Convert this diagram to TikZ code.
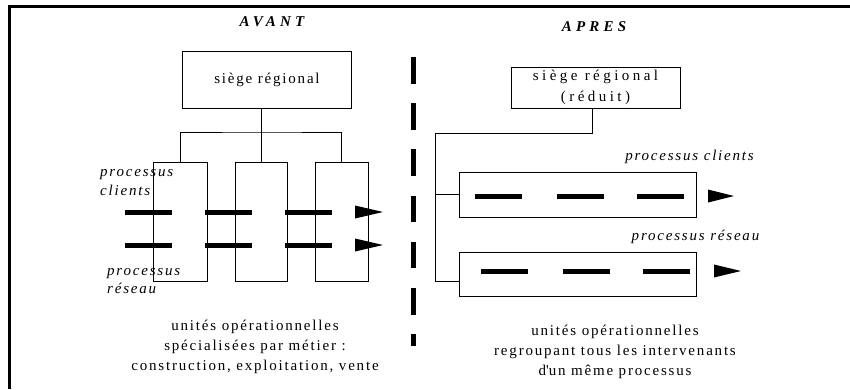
\documentclass[tikz,border=0pt]{standalone}
\usepackage{fontspec}
\setmainfont[LetterSpace=12]{Liberation Serif}
\usetikzlibrary{calc}

\begin{document}
\begin{tikzpicture}[x=1pt, y=-1pt,
    boite/.style={draw, line width=1pt, inner sep=0pt},
    lien/.style={line width=1pt},
    tiret/.style={line width=5pt},
    legende/.style={font=\fontsize{15}{20}\selectfont, align=center},
    proc/.style={font=\fontsize{15}{18.5}\selectfont\itshape, inner sep=0pt},
    titre/.style={font=\fontsize{15}{18}\selectfont\bfseries\itshape\addfontfeature{LetterSpace=28}}]

  \useasboundingbox (0,0) rectangle (850,389);

  % ====== CADRE ======
  \draw[line width=3pt] (9,389) -- (9,6) -- (850,6);

  % ====== AVANT ======
  \begin{scope}
    % Titre et siege
    \node[titre] (avant) at (272,22) {AVANT};
    \node[boite, legende, minimum width=169pt, minimum height=57pt] (siegeA) at (267,79.5) {siège régional};

    % Unites par metier
    \foreach \nom/\x/\w in {uA1/180/54, uA2/261/52, uA3/341.5/53} {
      \node[boite, minimum width=\w pt, minimum height=119pt] (\nom) at (\x,221.5) {};
    }

    % Rattachement
    \coordinate (bus) at (263,132);
    \draw[lien] (uA1.north) |- (bus) -| (uA3.north);
    \draw[lien] (siegeA.south -| uA2.north) -- (uA2.north);

    % Processus (traverses)
    \foreach \y in {212,245} {
      \foreach \x in {125,205,285} {
        \draw[tiret] (\x,\y) -- ++(47,0);
      }
      \fill (355,\y-6.5) -- (383,\y) -- (355,\y+6.5) -- cycle;
    }

    % Textes
    \node[proc, align=left, anchor=west] (pcA) at (100,182.5) {processus\\clients};
    \node[proc, align=left, anchor=west] (prA) at (107,281) {processus\\réseau};
    \node[legende] (legA) at (255,347)
      {unités opérationnelles\\spécialisées par métier :\\construction, exploitation, vente};
  \end{scope}

  % ====== SEPARATION ======
  \draw[line width=5.5pt, dash pattern=on 26.5pt off 19.7pt] (413.5,57) -- (413.5,346);

  % ====== APRES ======
  \begin{scope}
    % Titre et siege
    \node[titre] (apres) at (594,27) {APRES};
    \node[boite, align=center, font=\fontsize{15}{21}\selectfont\addfontfeature{LetterSpace=23},
      minimum width=169pt, minimum height=41pt] (siegeB) at (595.5,87.5) {siège régional\\(réduit)};

    % Unites par processus
    \node[boite, minimum width=237pt, minimum height=45pt] (pC) at (577.5,194.5) {};
    \node[boite, minimum width=237pt, minimum height=44pt] (pR) at (577.5,274) {};

    % Rattachement
    \coordinate (coude) at (435,133);
    \draw[lien] ([xshift=-3.5pt]siegeB.south) |- (coude) |- ([yshift=-7pt]pR.west);
    \draw[lien] (coude |- pC.west) -- (pC.west);

    % Processus (continus)
    \foreach \x in {475,557,637} {
      \draw[tiret] (\x,196) -- ++(47,0);
    }
    \fill (708,189.5) -- (734,196) -- (708,202.5) -- cycle;
    \foreach \x in {481,563,643} {
      \draw[tiret] (\x,271) -- ++(47,0);
    }
    \fill (714,264.5) -- (741,271) -- (714,277.5) -- cycle;

    % Textes
    \node[proc] (pcB) at (689.5,157) {processus clients};
    \node[proc] (prB) at (695.5,237) {processus réseau};
    \node[legende] (legB) at (615,352)
      {unités opérationnelles\\regroupant tous les intervenants\\d\textquotesingle un même processus};
  \end{scope}

\end{tikzpicture}
\end{document}
